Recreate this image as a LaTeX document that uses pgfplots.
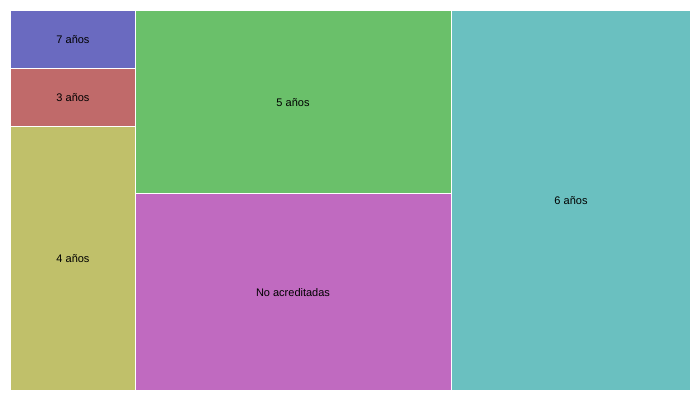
\documentclass[border=0pt]{standalone}
\usepackage{fontspec}
\setmainfont{Liberation Sans}
\usepackage{pgfplots}
\pgfplotsset{compat=1.18}
\definecolor{c7}{RGB}{106,106,192}
\definecolor{c3}{RGB}{192,106,106}
\definecolor{c4}{RGB}{192,192,106}
\definecolor{c5}{RGB}{106,192,106}
\definecolor{cn}{RGB}{192,106,192}
\definecolor{c6}{RGB}{106,192,192}
\begin{document}
\begin{tikzpicture}
\begin{axis}[
  width=700bp, height=400bp, scale only axis,
  xmin=0, xmax=700, ymin=0, ymax=400, y dir=reverse,
  hide axis, clip=false,
]
\addplot[fill=white, draw=none] coordinates {(0,0) (700,0) (700,400) (0,400)} --cycle;
\addplot[fill=c7, draw=white, line width=1bp] coordinates {(10.5,10.5) (135.5,10.5) (135.5,68.5) (10.5,68.5)} --cycle;
\addplot[fill=c3, draw=white, line width=1bp] coordinates {(10.5,68.5) (135.5,68.5) (135.5,126.5) (10.5,126.5)} --cycle;
\addplot[fill=c4, draw=white, line width=1bp] coordinates {(10.5,126.5) (135.5,126.5) (135.5,390.5) (10.5,390.5)} --cycle;
\addplot[fill=c5, draw=white, line width=1bp] coordinates {(135.5,10.5) (451.5,10.5) (451.5,193.5) (135.5,193.5)} --cycle;
\addplot[fill=cn, draw=white, line width=1bp] coordinates {(135.5,193.5) (451.5,193.5) (451.5,390.5) (135.5,390.5)} --cycle;
\addplot[fill=c6, draw=white, line width=1bp] coordinates {(451.5,10.5) (690.5,10.5) (690.5,390.5) (451.5,390.5)} --cycle;
\addplot[draw=none, mark=none, only marks, point meta=explicit symbolic,
  nodes near coords, nodes near coords align=center,
  every node near coord/.append style={anchor=center, font=\fontsize{11bp}{13bp}\selectfont, text=black}]
  coordinates {
  (73,40) [7 años]
  (73,98) [3 años]
  (73,259) [4 años]
  (293,103) [5 años]
  (293,293) [No acreditadas]
  (571,201) [6 años]
  };
\end{axis}
\end{tikzpicture}
\end{document}
